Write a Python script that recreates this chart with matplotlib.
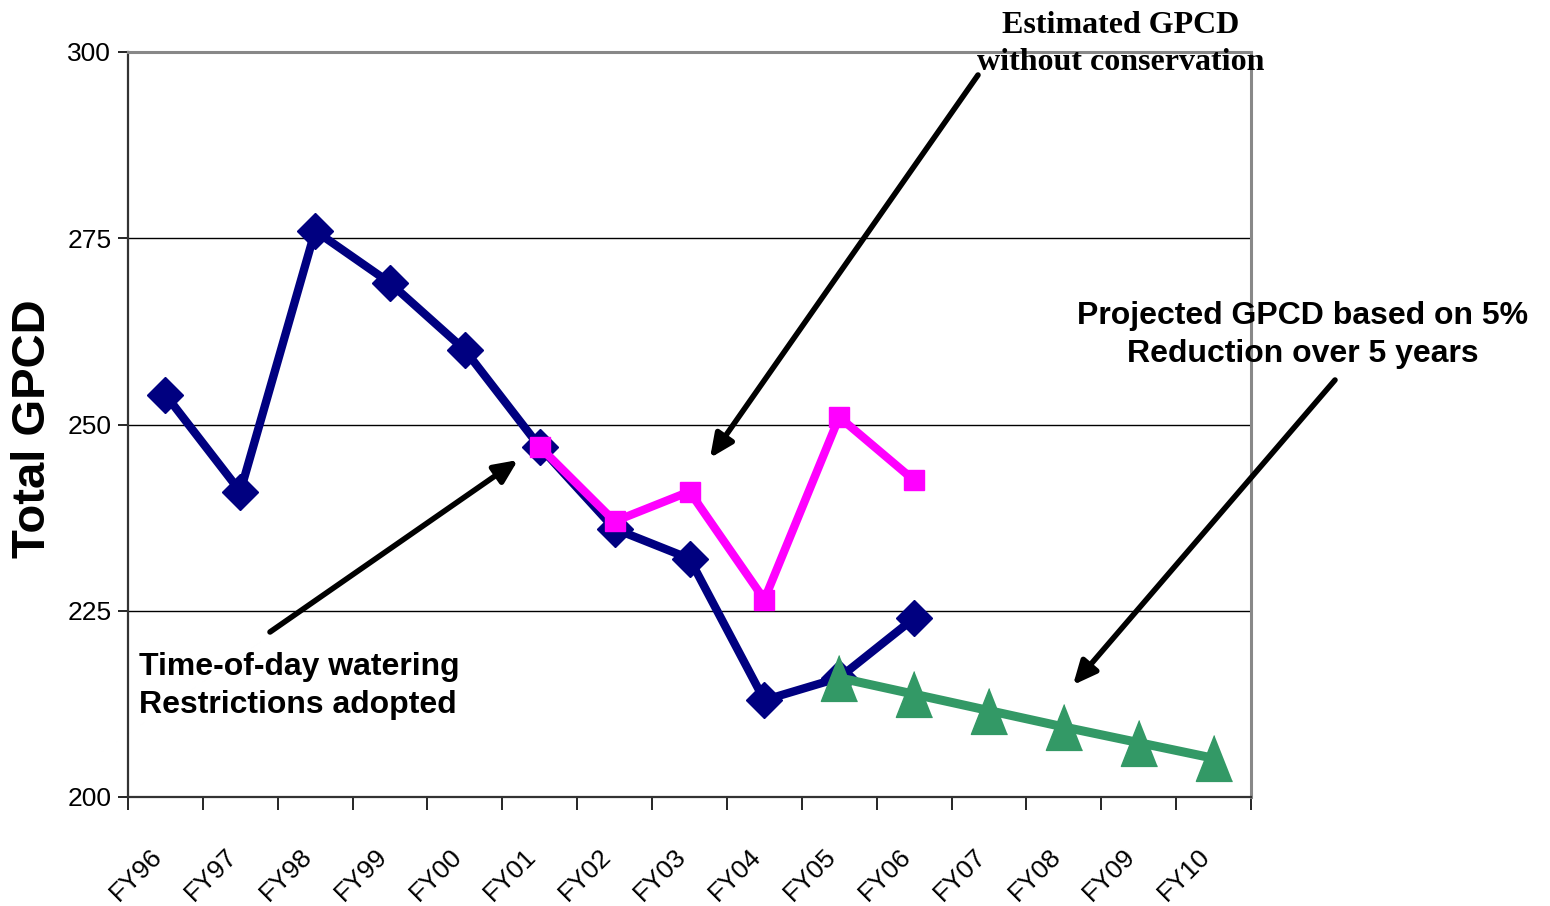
import matplotlib
matplotlib.use("Agg")
import matplotlib.pyplot as plt
import matplotlib.transforms as mtransforms
import numpy as np

# Fiscal years on the category axis
years = ["FY96", "FY97", "FY98", "FY99", "FY00", "FY01", "FY02", "FY03",
         "FY04", "FY05", "FY06", "FY07", "FY08", "FY09", "FY10"]

# Actual total GPCD, FY96-FY06
actual_gpcd = [254, 241, 276, 269, 260, 247, 236, 232, 213, 216, 224]

# Estimated GPCD without conservation, FY01-FY06
est_years = ["FY01", "FY02", "FY03", "FY04", "FY05", "FY06"]
est_gpcd = [247, 237, 241, 226.5, 251, 242.5]

# Projected GPCD (5% reduction over 5 years), FY05-FY10
proj_years = ["FY05", "FY06", "FY07", "FY08", "FY09", "FY10"]
proj_gpcd = [216, 213.8, 211.6, 209.4, 207.3, 205.2]

y_ticks = [200, 225, 250, 275, 300]

NAVY = "#000080"
PINK = "#FF00FF"
GREEN = "#339966"
SANS = "Liberation Sans"
SERIF = "Liberation Serif"

W, H = 1550, 906
fig = plt.figure(figsize=(W / 100, H / 100), dpi=100)
ax = fig.add_axes([128 / W, 1 - 797 / H, (1251 - 128) / W, (797 - 52) / H])

xpos = {name: i for i, name in enumerate(years)}
x_act = np.arange(len(actual_gpcd))
x_est = [xpos[n] for n in est_years]
x_proj = [xpos[n] for n in proj_years]

ax.plot(x_act, actual_gpcd, color=NAVY, lw=6, marker="D", ms=18,
        markeredgecolor=NAVY, zorder=3)
ax.plot(x_est, est_gpcd, color=PINK, lw=6, marker="s", ms=14,
        markeredgecolor=PINK, zorder=4)
tri = [(0, 1), (-0.79, -1), (0.79, -1)]
ax.plot(x_proj, proj_gpcd, color=GREEN, lw=6.5, marker=tri, ms=33,
        markeredgecolor=GREEN, zorder=5)

ax.set_xlim(-0.5, len(years) - 0.5)
ax.set_ylim(200, 300)

ax.set_yticks(y_ticks)
ax.set_yticklabels([str(v) for v in y_ticks], fontsize=19, family=SANS)
ax.tick_params(axis="y", direction="out", length=7, width=1.2, pad=5)

ax.set_xticks(np.arange(len(years)))
ax.set_xticklabels(years, fontsize=19, family=SANS, rotation=45,
                   ha="right", va="center", rotation_mode="anchor")
ax.set_xticks(np.arange(len(years) + 1) - 0.5, minor=True)
ax.tick_params(axis="x", which="major", length=0, pad=40)
ax.tick_params(axis="x", which="minor", direction="out", length=9, width=1.2)
shift = mtransforms.ScaledTranslation(-7 / 100, 0, fig.dpi_scale_trans)
for lab in ax.get_xticklabels():
    lab.set_transform(lab.get_transform() + shift)

ax.grid(axis="y", color="black", lw=1.0)
ax.set_axisbelow(True)

for side in ("left", "bottom"):
    ax.spines[side].set_color("#333333")
    ax.spines[side].set_linewidth(1.6)
for side in ("top", "right"):
    ax.spines[side].set_color("#888888")
    ax.spines[side].set_linewidth(2.2)

fig.text(33 / W, 1 - 429 / H, "Total GPCD", rotation=90, fontsize=34,
         fontweight="bold", family=SANS, ha="center", va="center")


def fpx(x, y):
    return (x / W, 1 - y / H)


arrow = dict(arrowstyle="-|>,head_length=0.7,head_width=0.32", lw=4,
             color="black", mutation_scale=20, shrinkA=0, shrinkB=0)

fig.text(1121 / W, 1 - 44 / H, "Estimated GPCD\nwithout conservation",
         fontsize=23, fontweight="bold", family=SERIF, ha="center",
         va="center", linespacing=1.35)
ax.annotate("", xy=fpx(710, 458), xytext=fpx(978, 75),
            xycoords="figure fraction", textcoords="figure fraction",
            arrowprops=arrow)

fig.text(1303 / W, 1 - 335 / H, "Projected GPCD based on 5%\nReduction over 5 years",
         fontsize=23, fontweight="bold", family=SANS, ha="center",
         va="center", linespacing=1.38)
ax.annotate("", xy=fpx(1073, 685), xytext=fpx(1335, 380),
            xycoords="figure fraction", textcoords="figure fraction",
            arrowprops=arrow)

fig.text(139 / W, 1 - 686 / H, "Time-of-day watering\nRestrictions adopted",
         fontsize=23, fontweight="bold", family=SANS, ha="left",
         va="center", linespacing=1.38)
ax.annotate("", xy=fpx(518, 460), xytext=fpx(270, 632),
            xycoords="figure fraction", textcoords="figure fraction",
            arrowprops=arrow)

fig.savefig("out.png", dpi=100)
